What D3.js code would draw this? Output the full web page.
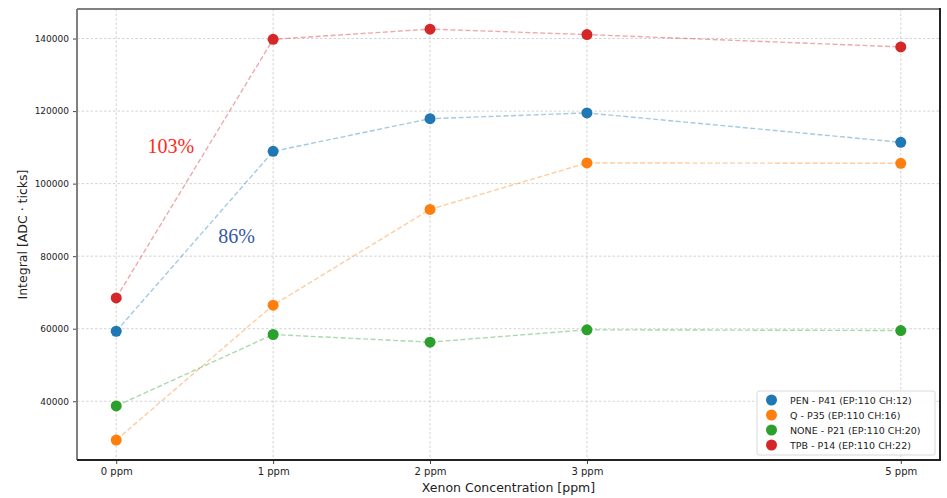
<!DOCTYPE html>
<html>
<head>
<meta charset="utf-8">
<script src="https://cdn.jsdelivr.net/npm/d3@7"></script>
<style>
  html, body { margin: 0; padding: 0; background: #fff; }
  svg { display: block; font-family: "DejaVu Sans", sans-serif; }
</style>
</head>
<body>
<svg id="chart" width="947" height="498"></svg>
<script>
// Xenon concentration (ppm) and tick labels
const ppm = [0, 1, 2, 3, 5];
const ppmLabels = ["0 ppm", "1 ppm", "2 ppm", "3 ppm", "5 ppm"];
const yTicks = [40000, 60000, 80000, 100000, 120000, 140000];

// Integral values per coating
const seriesNames = [
  "PEN - P41 (EP:110 CH:12)",
  "Q - P35 (EP:110 CH:16)",
  "NONE - P21 (EP:110 CH:20)",
  "TPB - P14 (EP:110 CH:22)"
];
const penValues  = [59300, 108900, 117900, 119500, 111400];
const qValues    = [29300, 66500, 92900, 105700, 105600];
const noneValues = [38700, 58400, 56300, 59700, 59500];
const tpbValues  = [68500, 139800, 142600, 141100, 137700];
const seriesColors = ["#1f77b4", "#ff7f0e", "#2ca02c", "#d62728"];

// Relative gain annotations
const gainLabels = ["103%", "86%"];
const gainColors = ["#ff2a1a", "#3658a4"];
const gainAnchors = [[0.2, 108500], [0.65, 83500]]; // [ppm, integral]

const series = [penValues, qValues, noneValues, tpbValues].map((vals, i) => ({
  name: seriesNames[i],
  color: seriesColors[i],
  points: vals.map((v, j) => ({ x: ppm[j], y: v }))
}));

const svg = d3.select("#chart");
const margin = { left: 77, top: 9, right: 7, bottom: 38 };
const W = 947, H = 498;
const iw = W - margin.left - margin.right;
const ih = H - margin.top - margin.bottom;

const x = d3.scaleLinear().domain([-0.25, 5.25]).range([margin.left, margin.left + iw]);
const y = d3.scaleLinear().domain([23800, 148150]).range([margin.top + ih, margin.top]);

// grid
const grid = svg.append("g");
grid.selectAll("line.gy").data(yTicks).join("line")
  .attr("x1", margin.left).attr("x2", margin.left + iw)
  .attr("y1", d => y(d)).attr("y2", d => y(d))
  .attr("stroke", "#c8c8c8").attr("stroke-width", 0.8).attr("stroke-dasharray", "2.5,2");
grid.selectAll("line.gx").data(ppm).join("line")
  .attr("x1", d => x(d)).attr("x2", d => x(d))
  .attr("y1", margin.top).attr("y2", margin.top + ih)
  .attr("stroke", "#c8c8c8").attr("stroke-width", 0.8).attr("stroke-dasharray", "2.5,2");

// axes
const xAxis = svg.append("g")
  .attr("transform", `translate(0,${margin.top + ih})`)
  .call(d3.axisBottom(x).tickValues(ppm).tickFormat((d, i) => ppmLabels[i]).tickSize(4).tickPadding(4));
const yAxis = svg.append("g")
  .attr("transform", `translate(${margin.left},0)`)
  .call(d3.axisLeft(y).tickValues(yTicks).tickFormat(d3.format("d")).tickSize(4).tickPadding(4));
[xAxis, yAxis].forEach(a => {
  a.select(".domain").remove();
  a.selectAll(".tick line").attr("stroke", "#333").attr("stroke-width", 0.9);
  a.selectAll(".tick text").attr("fill", "#222").style("font-family", "DejaVu Sans, sans-serif");
});
xAxis.selectAll(".tick text").style("font-size", "10px");
yAxis.selectAll(".tick text").style("font-size", "9px");

// lines
const line = d3.line().x(d => x(d.x)).y(d => y(d.y));
svg.append("g").selectAll("path").data(series).join("path")
  .attr("d", d => line(d.points))
  .attr("fill", "none")
  .attr("stroke", d => d.color)
  .attr("stroke-opacity", 0.4)
  .attr("stroke-width", 1.4)
  .attr("stroke-dasharray", "5,2.5");

// markers
svg.append("g").selectAll("g").data(series).join("g")
  .attr("fill", d => d.color)
  .selectAll("circle").data(d => d.points).join("circle")
  .attr("cx", d => x(d.x)).attr("cy", d => y(d.y)).attr("r", 5.5);

// frame: lighter top/left, darker bottom/right
const fx0 = margin.left, fx1 = margin.left + iw, fy0 = margin.top, fy1 = margin.top + ih;
svg.append("line").attr("x1", fx0).attr("x2", fx1).attr("y1", fy0).attr("y2", fy0).attr("stroke", "#808080").attr("stroke-width", 2);
svg.append("line").attr("x1", fx0).attr("x2", fx0).attr("y1", fy0).attr("y2", fy1).attr("stroke", "#808080").attr("stroke-width", 2);
svg.append("line").attr("x1", fx0).attr("x2", fx1 + 1).attr("y1", fy1).attr("y2", fy1).attr("stroke", "#222").attr("stroke-width", 2);
svg.append("line").attr("x1", fx1).attr("x2", fx1).attr("y1", fy0 - 1).attr("y2", fy1).attr("stroke", "#222").attr("stroke-width", 2);

// axis labels
svg.append("text")
  .attr("x", (fx0 + fx1) / 2).attr("y", 492)
  .attr("text-anchor", "middle").attr("fill", "#222")
  .style("font-size", "12.5px")
  .text("Xenon Concentration [ppm]");
svg.append("text")
  .attr("transform", `translate(27,${(fy0 + fy1) / 2}) rotate(-90)`)
  .attr("text-anchor", "middle").attr("fill", "#222")
  .style("font-size", "12.5px")
  .text("Integral [ADC · ticks]");

// gain annotations
svg.append("g").selectAll("text").data(gainLabels).join("text")
  .attr("x", (d, i) => x(gainAnchors[i][0]))
  .attr("y", (d, i) => y(gainAnchors[i][1]))
  .attr("fill", (d, i) => gainColors[i])
  .style("font-family", "Liberation Serif, Times New Roman, serif")
  .style("font-size", "20px")
  .text(d => d);

// legend
const lg = svg.append("g").attr("transform", "translate(757,391)");
lg.append("rect").attr("width", 178).attr("height", 64).attr("rx", 2)
  .attr("fill", "#fff").attr("fill-opacity", 0.85)
  .attr("stroke", "#d9d9d9").attr("stroke-width", 1);
const items = lg.selectAll("g.item").data(series).join("g")
  .attr("transform", (d, i) => `translate(0,${9 + i * 15})`);
items.append("circle").attr("cx", 14.5).attr("cy", 0).attr("r", 5.5).attr("fill", d => d.color);
items.append("text").attr("x", 33).attr("y", 3.5)
  .attr("fill", "#222").style("font-size", "9.5px")
  .text(d => d.name);
</script>
</body>
</html>
